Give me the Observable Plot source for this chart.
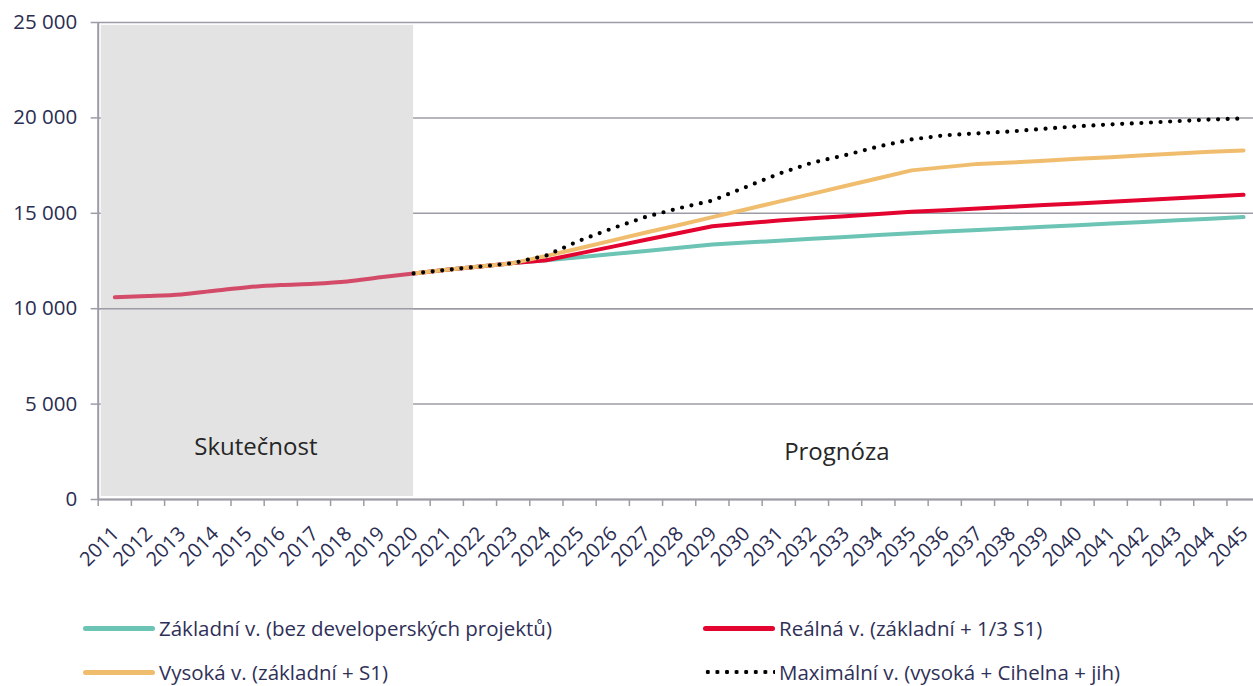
<!DOCTYPE html>
<html>
<head>
<meta charset="utf-8">
<script src="https://cdn.jsdelivr.net/npm/d3@7"></script>
<script src="https://cdn.jsdelivr.net/npm/@observablehq/plot@0.6"></script>
<style>
  html, body { margin: 0; padding: 0; background: #fff; }
  #chart svg { display: block; }
  .legend { position: relative; height: 86px; font-family: "Open Sans", sans-serif; font-size: 20.5px; color: #2f3057; }
  .item { position: absolute; display: flex; align-items: center; white-space: nowrap; height: 28px; }
  .sw { display: block; width: 72px; margin-right: 4px; }
</style>
</head>
<body>
<div id="chart"></div>
<div class="legend" id="legend"></div>
<script>
// ---- data ----
const histYears = [2011, 2012, 2013, 2014, 2015, 2016, 2017, 2018, 2019, 2020];
const histValues = [10600, 10660, 10750, 10940, 11130, 11240, 11310, 11430, 11650, 11850];

const fcYears = [2020, 2021, 2022, 2023, 2024, 2025, 2026, 2027, 2028, 2029, 2030, 2031, 2032,
  2033, 2034, 2035, 2036, 2037, 2038, 2039, 2040, 2041, 2042, 2043, 2044, 2045];

const zakladni = [11850, 12040, 12210, 12390, 12540, 12700, 12870, 13030, 13200, 13365, 13465, 13560, 13660,
  13760, 13860, 13957, 14040, 14125, 14210, 14290, 14375, 14460, 14545, 14630, 14710, 14800];
const realna = [11850, 12040, 12210, 12390, 12540, 12900, 13255, 13610, 13970, 14320, 14480, 14620, 14740,
  14850, 14960, 15080, 15160, 15250, 15340, 15430, 15520, 15610, 15700, 15790, 15880, 15970];
const vysoka = [11850, 12040, 12210, 12390, 12770, 13170, 13580, 13990, 14390, 14800, 15200, 15610, 16020,
  16430, 16840, 17250, 17420, 17590, 17660, 17750, 17855, 17940, 18045, 18135, 18220, 18290];
const maximalni = [11850, 12040, 12210, 12390, 12790, 13570, 14220, 14815, 15270, 15670, 16370, 17070, 17650,
  18045, 18500, 18870, 19090, 19190, 19290, 19430, 19560, 19660, 19740, 19830, 19915, 19970];

const seriesNames = [
  "Základní v. (bez developerských projektů)",
  "Reálná v. (základní + 1/3 S1)",
  "Vysoká v. (základní + S1)",
  "Maximální v. (vysoká + Cihelna + jih)"
];
const seriesColors = ["#6cc4b4", "#e3042f", "#f0bd6e", "#000000"];
const histColor = "#d34b69";

const yTicks = [0, 5000, 10000, 15000, 20000, 25000];
const tickYears = d3.range(2011, 2046);
const periods = [
  {label: "Skutečnost", from: 2011, to: 2020},
  {label: "Prognóza", from: 2020, to: 2045}
];
const shadeTop = 24850;

// ---- build tables ----
const hist = histYears.map((y, i) => ({year: y, value: histValues[i]}));
const fcArrays = [zakladni, realna, vysoka, maximalni];
const fc = fcArrays.map((arr, s) => fcYears.map((y, i) => ({year: y, value: arr[i], s})));

const fmt = d => d3.format(",")(d).replace(/,/g, " ");
const font = "Open Sans";
const txt = "#2b2d52";
const axisCol = "#9c9ca6";

const lineOpts = (s, extra = {}) => ({x: "year", y: "value", stroke: seriesColors[s], strokeWidth: 4, strokeLinecap: "round", strokeLinejoin: "round", ...extra});

const plot = Plot.plot({
  width: 1253,
  height: 600,
  marginLeft: 97.7,
  marginRight: 0,
  marginTop: 22,
  marginBottom: 101,
  style: {fontFamily: font, background: "white"},
  x: {type: "linear", domain: [2010.5, 2045.3], axis: null, label: null},
  y: {domain: [0, 25000], axis: null, label: null},
  marks: [
    Plot.gridY(yTicks, {stroke: axisCol, strokeOpacity: 1, strokeWidth: 1.5}),
    Plot.rectY([periods[0]], {x1: d => d.from - 0.5, x2: d => d.to, y1: 0, y2: shadeTop, fill: "#e3e3e3", insetLeft: 3, insetTop: 0, insetBottom: 3}),
    Plot.ruleY([10000], {stroke: axisCol, strokeWidth: 1.5}),
    Plot.axisY(yTicks, {label: null, tickSize: 7, tickPadding: 14, tickFormat: fmt, fontSize: 20.5, color: txt, stroke: axisCol, strokeWidth: 1.5}),
    Plot.axisX(tickYears.map(y => y - 0.5), {label: null, tickSize: 7, tickFormat: () => "", stroke: axisCol, strokeWidth: 1.5}),
    Plot.ruleX([2010.5], {y1: 0, y2: 25000, stroke: axisCol, strokeWidth: 2}),
    Plot.ruleY([0], {stroke: axisCol, strokeWidth: 2}),
    Plot.text(tickYears, {x: d => d, y: 0, text: d => String(d), rotate: -45, textAnchor: "end", dx: 1, dy: 31, fontSize: 20, fill: txt}),
    Plot.text([periods[0]], {x: d => (d.from - 0.5 + d.to) / 2, y: 0, text: "label", dy: -52, fontSize: 24, fill: "#262626"}),
    Plot.text([periods[1]], {x: d => (d.from + d.to + 0.5) / 2, y: 0, text: "label", dy: -47, fontSize: 24, fill: "#262626"}),
    Plot.line(hist, {x: "year", y: "value", stroke: histColor, strokeWidth: 4, strokeLinecap: "round", curve: "monotone-x"}),
    Plot.line(fc[0], lineOpts(0)),
    Plot.line(fc[1], lineOpts(1)),
    Plot.line(fc[2], lineOpts(2)),
    Plot.line(fc[3], lineOpts(3, {strokeDasharray: "0 9.6", strokeWidth: 4.2}))
  ]
});
document.getElementById("chart").appendChild(plot);

// ---- legend ----
const legend = document.getElementById("legend");
const pos = [[83, 28], [703, 28], [83, 72], [703, 72]];
[0, 1, 2, 3].forEach((s, k) => {
  const it = document.createElement("div");
  it.className = "item";
  it.style.left = pos[k][0] + "px";
  it.style.top = (pos[k][1] - 14) + "px";
  const sw = document.createElement("div");
  sw.className = "sw";
  if (s === 3) {
    sw.style.height = "6px";
    sw.style.backgroundImage = "radial-gradient(circle, #000 0, #000 1.9px, rgba(0,0,0,0) 2.4px)";
    sw.style.backgroundSize = "9.6px 6px";
    sw.style.backgroundRepeat = "repeat-x";
  } else {
    sw.style.height = "5px";
    sw.style.background = seriesColors[s];
    sw.style.borderRadius = "3px";
  }
  const t = document.createElement("span");
  t.textContent = seriesNames[s];
  it.appendChild(sw);
  it.appendChild(t);
  legend.appendChild(it);
});
</script>
</body>
</html>
